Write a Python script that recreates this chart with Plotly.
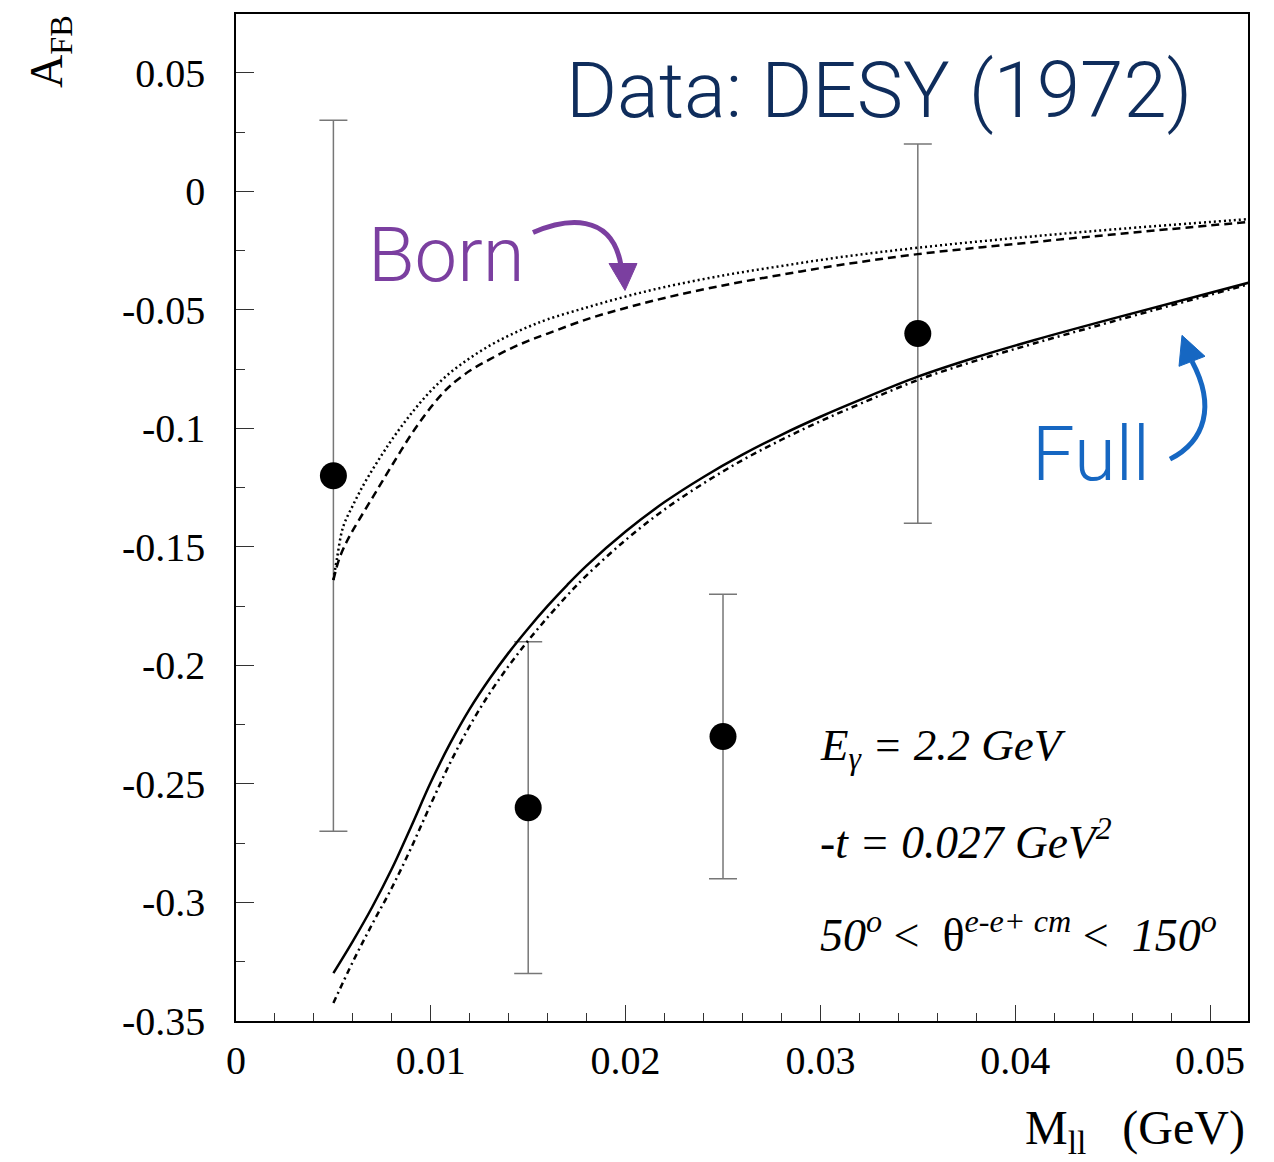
import plotly.graph_objects as go

# ---------------- data ----------------
data_x = [0.005, 0.015, 0.025, 0.035]
data_y = [-0.12, -0.26, -0.23, -0.06]
data_err = [0.15, 0.07, 0.06, 0.08]

born_dot_x = [0.005, 0.0052, 0.0055, 0.006, 0.0065, 0.007, 0.0075, 0.008, 0.009, 0.010, 0.011,
              0.012, 0.013, 0.014, 0.015, 0.016, 0.018, 0.020, 0.022, 0.025, 0.028, 0.031,
              0.035, 0.040, 0.045, 0.052]
born_dot_y = [-0.164, -0.154, -0.1415, -0.1325, -0.1245, -0.1175, -0.1110, -0.1048, -0.0937,
              -0.0842, -0.0765, -0.0704, -0.0652, -0.0609, -0.0572, -0.0540, -0.0490, -0.0444,
              -0.0404, -0.0355, -0.0315, -0.0278, -0.0238, -0.0197, -0.0161, -0.0117]

born_dash_x = [0.005, 0.0053, 0.0057, 0.0061, 0.007, 0.0075, 0.008, 0.0085, 0.009, 0.0095,
               0.010, 0.0105, 0.011, 0.012, 0.013, 0.014, 0.015, 0.016, 0.018, 0.020, 0.022,
               0.025, 0.028, 0.031, 0.035, 0.040, 0.045, 0.052]
born_dash_y = [-0.164, -0.155, -0.1475, -0.1416, -0.1293, -0.1225, -0.1157, -0.1090, -0.1025,
               -0.0966, -0.0911, -0.0862, -0.0820, -0.0757, -0.0710, -0.0667, -0.0631, -0.0600,
               -0.0540, -0.0492, -0.0450, -0.0397, -0.0352, -0.0311, -0.0265, -0.0222, -0.0182,
               -0.0129]

full_solid_x = [0.005, 0.006, 0.007, 0.008, 0.009, 0.010, 0.011, 0.012, 0.013, 0.014, 0.015,
                0.016, 0.017, 0.018, 0.020, 0.022, 0.024, 0.026, 0.028, 0.030, 0.032, 0.035,
                0.038, 0.041, 0.045, 0.052]
full_solid_y = [-0.3298, -0.3163, -0.3018, -0.2858, -0.2678, -0.2493, -0.2328, -0.2183, -0.2058,
                -0.1946, -0.1844, -0.1749, -0.1661, -0.1579, -0.1435, -0.1311, -0.1205, -0.1111,
                -0.1027, -0.0951, -0.0881, -0.0782, -0.0700, -0.0627, -0.0537, -0.0385]

full_dashdot_x = [0.005, 0.006, 0.007, 0.008, 0.009, 0.010, 0.011, 0.012, 0.013, 0.014, 0.015,
                  0.016, 0.017, 0.018, 0.020, 0.022, 0.024, 0.026, 0.028, 0.030, 0.032, 0.035,
                  0.038, 0.041, 0.045, 0.052]
full_dashdot_y = [-0.3424, -0.3250, -0.3090, -0.2938, -0.2768, -0.2585, -0.2410, -0.2255,
                  -0.2120, -0.2002, -0.1895, -0.1797, -0.1705, -0.1620, -0.1471, -0.1342,
                  -0.1232, -0.1134, -0.1048, -0.0970, -0.0898, -0.0796, -0.0714, -0.0641,
                  -0.0549, -0.0392]

x_tickvals = [0, 0.01, 0.02, 0.03, 0.04, 0.05]
x_ticktext = ["0", "0.01", "0.02", "0.03", "0.04", "0.05"]
y_tickvals = [0.05, 0, -0.05, -0.1, -0.15, -0.2, -0.25, -0.3, -0.35]
y_ticktext = ["0.05", "0", "-0.05", "-0.1", "-0.15", "-0.2", "-0.25", "-0.3", "-0.35"]

# ---------------- layout geometry helpers ----------------
W, H = 1274, 1162
ML, MR, MT, MB = 236, 26, 12, 141
PW, PH = W - ML - MR, H - MT - MB


def px(x):
    return (x - ML) / PW


def py(y):
    return (H - MB - y) / PH


SERIF = "Liberation Serif"
SANS = "Roboto"

fig = go.Figure()

fig.add_trace(go.Scatter(x=data_x, y=data_y, mode="markers",
                         marker=dict(color="black", size=27),
                         error_y=dict(type="data", array=data_err, visible=True,
                                      color="#777777", thickness=1.5, width=14),
                         showlegend=False))

fig.add_trace(go.Scatter(x=born_dot_x, y=born_dot_y, mode="lines", line_shape="spline",
                         line=dict(color="black", width=2.5, dash="2px,3px"), showlegend=False))
fig.add_trace(go.Scatter(x=born_dash_x, y=born_dash_y, mode="lines", line_shape="spline",
                         line=dict(color="black", width=2.5, dash="8px,5px"), showlegend=False))
fig.add_trace(go.Scatter(x=full_solid_x, y=full_solid_y, mode="lines", line_shape="spline",
                         line=dict(color="black", width=2.5), showlegend=False))
fig.add_trace(go.Scatter(x=full_dashdot_x, y=full_dashdot_y, mode="lines", line_shape="spline",
                         line=dict(color="black", width=2.5, dash="6px,4px,2px,4px"), showlegend=False))

ann = []
ann.append(dict(text="Data: DESY (1972)", x=px(564), y=py(89), xref="paper", yref="paper",
                xanchor="left", yanchor="middle", showarrow=False,
                font=dict(family=SANS, size=78, color="#0F2D5C", weight=300)))
ann.append(dict(text="Born", x=px(366), y=py(253), xref="paper", yref="paper",
                xanchor="left", yanchor="middle", showarrow=False,
                font=dict(family=SANS, size=76, color="#7B3FA0", weight=300)))
ann.append(dict(text="Full", x=px(1030), y=py(453), xref="paper", yref="paper",
                xanchor="left", yanchor="middle", showarrow=False,
                font=dict(family=SANS, size=76, color="#1667C2", weight=300)))

NB = "\u00a0"
ann.append(dict(text="<i>E<sub>γ</sub> = 2.2 GeV</i>", x=px(818), y=py(747), xref="paper",
                yref="paper", xanchor="left", yanchor="middle", showarrow=False,
                font=dict(family=SERIF, size=45, color="black")))
ann.append(dict(text="<i>-t = 0.027 GeV<sup>2</sup></i>", x=px(818), y=py(839), xref="paper",
                yref="paper", xanchor="left", yanchor="middle", showarrow=False,
                font=dict(family=SERIF, size=45.5, color="black")))
ann.append(dict(text="<i>50<sup>o</sup></i> &lt;" + NB + NB + "θ<sup><i>e-e+ cm</i></sup> &lt;" + NB + NB + "<i>150<sup>o</sup></i>",
                x=px(818), y=py(932), xref="paper",
                yref="paper", xanchor="left", yanchor="middle", showarrow=False,
                font=dict(family=SERIF, size=46, color="black")))

ann.append(dict(text="M<sub>ll</sub>" + NB * 3 + "(GeV)", x=px(1247), y=py(1131), xref="paper",
                yref="paper", xanchor="right", yanchor="middle", showarrow=False,
                font=dict(family=SERIF, size=48, color="black")))
ann.append(dict(text="A<sub>FB</sub>", x=px(50), y=py(50), xref="paper",
                yref="paper", xanchor="center", yanchor="middle", showarrow=False, textangle=-90,
                font=dict(family=SERIF, size=46, color="black")))


def P(x, y):
    return f"{px(x):.5f},{py(y):.5f}"


shapes = []
purple = "#7B3FA0"
blue = "#1667C2"
shapes.append(dict(type="path", xref="paper", yref="paper",
                   path=f"M {P(533,231)} C {P(565,217)} {P(612,210)} {P(621,264)}",
                   line=dict(color=purple, width=5)))
shapes.append(dict(type="path", xref="paper", yref="paper",
                   path=f"M {P(609,262)} L {P(637,262)} L {P(625,289)} Z",
                   fillcolor=purple, line=dict(color=purple, width=1)))
shapes.append(dict(type="path", xref="paper", yref="paper",
                   path=f"M {P(1170,458)} C {P(1205,440)} {P(1216,405)} {P(1192,360)}",
                   line=dict(color=blue, width=5)))
shapes.append(dict(type="path", xref="paper", yref="paper",
                   path=f"M {P(1179,365)} L {P(1205,355)} L {P(1182,334)} Z",
                   fillcolor=blue, line=dict(color=blue, width=1)))

fig.update_layout(
    width=W, height=H,
    margin=dict(l=ML, r=MR, t=MT, b=MB, pad=0),
    paper_bgcolor="white", plot_bgcolor="white",
    annotations=ann, shapes=shapes,
    xaxis=dict(range=[0, 0.05195], showgrid=False, zeroline=False,
               showline=True, linecolor="black", linewidth=1.5, mirror=True,
               ticks="inside", ticklen=16, tickwidth=1.2, tickcolor="#333",
               tickvals=x_tickvals, ticktext=x_ticktext,
               minor=dict(dtick=0.002, ticks="inside", ticklen=8, tickwidth=1.2, tickcolor="#333"),
               tickfont=dict(family=SERIF, size=40, color="black"), ticklabelstandoff=3),
    yaxis=dict(range=[-0.35, 0.0748], showgrid=False, zeroline=False,
               showline=True, linecolor="black", linewidth=1.5, mirror=True,
               ticks="inside", ticklen=18, tickwidth=1.2, tickcolor="#333",
               tickvals=y_tickvals, ticktext=y_ticktext,
               minor=dict(dtick=0.025, tick0=0, ticks="inside", ticklen=9, tickwidth=1.2, tickcolor="#333"),
               tickfont=dict(family=SERIF, size=40, color="black"), ticklabelstandoff=21),
)

fig.write_html("out.html")
